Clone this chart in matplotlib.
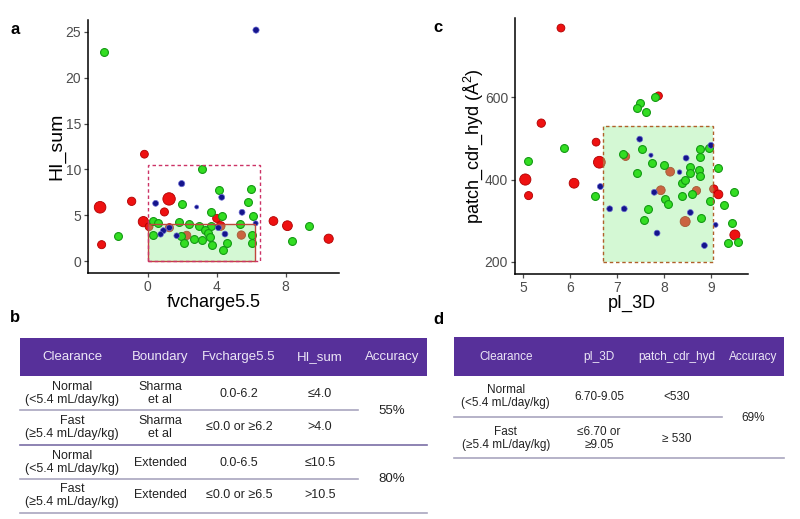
import matplotlib
matplotlib.use('Agg')
import matplotlib.pyplot as plt
from matplotlib.patches import Rectangle

plt.rcParams['font.family'] = ['Liberation Sans', 'DejaVu Sans']
plt.rcParams['mathtext.fontset'] = 'custom'
plt.rcParams['mathtext.rm'] = 'Liberation Sans'

# ---- panel a: fvcharge5.5 vs HI_sum ----
a_green_x = [-2.51, -1.70, 3.13, 1.97, 4.15, 6.0, 5.8, 3.65, 4.29, 6.09, 5.35, 0.33, 0.62, 1.8, 2.4, 2.96,
             3.65, 3.34, 3.5, 3.6, 0.33, 1.93, 2.7, 3.13, 2.09, 3.73, 4.58, 4.35, 6.07, 6.07, 8.39, 9.37]
a_green_y = [22.8, 2.73, 10.06, 6.23, 7.73, 7.9, 6.4, 5.36, 4.92, 4.92, 4.0, 4.41, 4.12, 4.3, 4.05, 3.83,
             3.86, 3.39, 3.1, 2.59, 2.8, 2.77, 2.37, 2.3, 2.0, 1.75, 2.0, 1.17, 2.8, 2.0, 2.22, 3.83]
a_blue_x = [6.28, 1.97, 0.46, 2.84, 4.29, 5.47, 6.26, 0.91, 0.75, 1.68, 1.26, 4.1, 4.48]
a_blue_y = [25.2, 8.45, 6.3, 5.9, 6.96, 5.32, 4.12, 3.32, 2.92, 2.77, 3.64, 3.64, 2.95]
a_blue_s = [20, 20, 18, 8, 18, 18, 13, 18, 16, 16, 18, 18, 18]
a_red_x = [-2.76, -2.67, -0.19, -0.93, -0.25, 0.08, 1.24, 0.97, 1.26, 2.26, 4.0, 4.23, 5.43, 7.29, 8.1, 10.49]
a_red_y = [5.87, 1.79, 11.66, 6.52, 4.3, 3.75, 6.78, 5.36, 3.64, 2.8, 4.66, 3.83, 2.84, 4.37, 3.86, 2.44]
a_red_s = [70, 34, 32, 36, 55, 32, 80, 34, 34, 36, 34, 40, 36, 40, 50, 44]
sharma = (0.0, 6.2, 0.0, 4.0)      # x0, x1, y0, y1
extended = (0.0, 6.5, 0.0, 10.5)

# ---- panel c: pI_3D vs patch_cdr_hyd ----
c_green_x = [5.09, 5.86, 6.52, 7.12, 7.48, 7.43, 7.62, 7.80, 7.53, 7.42, 7.75, 8.0, 8.38, 8.45, 8.56, 8.56,
             8.75, 8.77, 8.76, 8.95, 8.76, 8.59, 8.38, 8.03, 8.09, 7.66, 7.58, 8.79, 8.97, 9.16, 9.27, 9.5,
             9.45, 9.36, 9.58]
c_green_y = [444.5, 477.7, 361, 463, 585, 573, 565, 600, 474.5, 415, 441, 435.6, 391, 398, 431.6, 417,
             424, 473.7, 454, 477.7, 409, 366, 361, 353, 340, 328, 302, 306, 347, 427, 337, 369,
             294, 245, 249]
c_blue_x = [7.48, 7.72, 6.64, 6.84, 7.15, 7.79, 7.85, 8.47, 8.33, 8.56, 8.86, 9.0, 9.10]
c_blue_y = [498, 459, 383, 329, 329, 369, 270, 452, 418, 320, 240, 483, 290]
c_blue_s = [18, 9, 18, 18, 18, 18, 18, 18, 11, 18, 18, 18, 12]
c_red_x = [5.80, 5.38, 6.55, 6.62, 5.04, 5.11, 6.08, 7.88, 7.18, 8.13, 7.93, 8.69, 8.45, 9.06, 9.16, 9.51]
c_red_y = [767.6, 536.8, 490.7, 442, 400, 361, 391, 603, 456, 419, 374, 373, 298, 377, 364, 265.6]
c_red_s = [32, 36, 32, 72, 65, 34, 50, 32, 34, 40, 40, 36, 52, 36, 40, 52]
c_box = (6.70, 9.05, 200, 530)

# ---- tables ----
b_header = ['Clearance', 'Boundary', 'Fvcharge5.5', 'HI_sum', 'Accuracy']
b_rows = [['Normal\n(<5.4 mL/day/kg)', 'Sharma\net al', '0.0-6.2', '≤4.0'],
          ['Fast\n(≥5.4 mL/day/kg)', 'Sharma\net al', '≤0.0 or ≥6.2', '>4.0'],
          ['Normal\n(<5.4 mL/day/kg)', 'Extended', '0.0-6.5', '≤10.5'],
          ['Fast\n(≥5.4 mL/day/kg)', 'Extended', '≤0.0 or ≥6.5', '>10.5']]
b_acc = ['55%', '80%']
d_header = ['Clearance', 'pI_3D', 'patch_cdr_hyd', 'Accuracy']
d_rows = [['Normal\n(<5.4 mL/day/kg)', '6.70-9.05', '<530'],
          ['Fast\n(≥5.4 mL/day/kg)', '≤6.70 or\n≥9.05', '≥ 530']]
d_acc = ['69%']

RED, RED_E = '#ee1111', '#b00000'
GRN, GRN_E = '#33dd22', '#139913'
BLU, BLU_E = '#14148c', '#6a6ad0'
BOXFILL = '#90ee90'
PURPLE = '#57309a'

fig = plt.figure(figsize=(8, 5.19), dpi=100)
W, H = 800, 519


def style(ax):
    for s in ['top', 'right']:
        ax.spines[s].set_visible(False)
    for s in ['left', 'bottom']:
        ax.spines[s].set_linewidth(1.1)
    ax.tick_params(labelsize=10, colors='#4d4d4d', length=3, width=0.9, pad=2)


# panel a
ax = fig.add_axes([88 / W, 1 - 273 / H, (339 - 88) / W, (273 - 20) / H])
ax.scatter(a_red_x, a_red_y, s=a_red_s, c=RED, edgecolors=RED_E, linewidths=0.6, zorder=2)
ax.add_patch(Rectangle((sharma[0], sharma[2]), sharma[1] - sharma[0], sharma[3] - sharma[2],
                       facecolor=BOXFILL, alpha=0.38, edgecolor='none', zorder=3))
ax.add_patch(Rectangle((sharma[0], sharma[2]), sharma[1] - sharma[0], sharma[3] - sharma[2],
                       facecolor='none', edgecolor='#c0463c', lw=1.0, zorder=5))
ax.add_patch(Rectangle((extended[0], extended[2]), extended[1] - extended[0], extended[3] - extended[2],
                       facecolor='none', edgecolor='#cc3366', lw=1.0, ls=(0, (2.5, 2)), zorder=5))
ax.scatter(a_green_x, a_green_y, s=32, c=GRN, edgecolors=GRN_E, linewidths=0.8, zorder=4)
ax.scatter(a_blue_x, a_blue_y, s=a_blue_s, c=BLU, edgecolors=BLU_E, linewidths=0.5, zorder=4)
ax.set_xlim(-3.46, 11.09)
ax.set_ylim(-1.3, 26.3)
ax.set_xticks([0, 4, 8])
ax.set_yticks([0, 5, 10, 15, 20, 25])
ax.set_xlabel('fvcharge5.5', fontsize=13, labelpad=0)
ax.set_ylabel('HI_sum', fontsize=14, labelpad=0)
style(ax)

# panel c
ax = fig.add_axes([515 / W, 1 - 274 / H, (748 - 515) / W, (274 - 18) / H])
ax.scatter(c_red_x, c_red_y, s=c_red_s, c=RED, edgecolors=RED_E, linewidths=0.6, zorder=2)
ax.add_patch(Rectangle((c_box[0], c_box[2]), c_box[1] - c_box[0], c_box[3] - c_box[2],
                       facecolor=BOXFILL, alpha=0.38, edgecolor='none', zorder=3))
ax.add_patch(Rectangle((c_box[0], c_box[2]), c_box[1] - c_box[0], c_box[3] - c_box[2],
                       facecolor='none', edgecolor='#b0602a', lw=1.0, ls=(0, (2.5, 2)), zorder=5))
ax.scatter(c_green_x, c_green_y, s=32, c=GRN, edgecolors=GRN_E, linewidths=0.8, zorder=4)
ax.scatter(c_blue_x, c_blue_y, s=c_blue_s, c=BLU, edgecolors=BLU_E, linewidths=0.5, zorder=4)
ax.set_xlim(4.82, 9.79)
ax.set_ylim(170.8, 791.9)
ax.set_xticks([5, 6, 7, 8, 9])
ax.set_yticks([200, 400, 600])
ax.set_xlabel('pI_3D', fontsize=13, labelpad=0)
ax.set_ylabel('patch_cdr_hyd (Å$^2$)', fontsize=13, labelpad=0)
style(ax)

# overlay axes in pixel coordinates for tables and panel letters
tx = fig.add_axes([0, 0, 1, 1])
tx.set_xlim(0, W)
tx.set_ylim(H, 0)
tx.axis('off')

for lab, x, y in [('a', 15, 30), ('b', 15, 318), ('c', 438, 28), ('d', 438, 320)]:
    tx.text(x, y, lab, fontsize=12, fontweight='bold', ha='center', va='center')

# table b
tx.add_patch(Rectangle((20, 338), 407, 38, facecolor=PURPLE, edgecolor='none'))
b_cols = [72, 160, 239, 320, 392]
for name, x in zip(b_header, b_cols):
    tx.text(x, 357, name, fontsize=9.5, color='#ece6f6', ha='center', va='center')
b_mid = [393.7, 427.5, 462.5, 495.5]
for row, y in zip(b_rows, b_mid):
    for val, x in zip(row, b_cols):
        tx.text(x, y, val, fontsize=9, ha='center', va='center', linespacing=1.1, color='#222222')
tx.plot([20, 358], [410, 410], color='#a9a6bf', lw=1.2)
tx.plot([20, 427], [445, 445], color='#7a6ea6', lw=1.2)
tx.plot([20, 358], [479.3, 479.3], color='#a9a6bf', lw=1.2)
tx.plot([20, 427], [513.3, 513.3], color='#a9a6bf', lw=1.2)
for val, y in zip(b_acc, [410.7, 479]):
    tx.text(b_cols[4], y, val, fontsize=9.5, ha='center', va='center', color='#222222')

# table d
tx.add_patch(Rectangle((454, 337), 330, 39, facecolor=PURPLE, edgecolor='none'))
d_cols = [505.7, 599, 676.7, 752.7]
for name, x in zip(d_header, d_cols):
    tx.text(x, 357, name, fontsize=8.5, color='#ece6f6', ha='center', va='center')
d_mid = [396.7, 438.8]
for row, y in zip(d_rows, d_mid):
    for val, x in zip(row, d_cols):
        tx.text(x, y, val, fontsize=8.5, ha='center', va='center', linespacing=1.1, color='#222222')
tx.plot([454, 722], [416.7, 416.7], color='#a9a6bf', lw=1.2)
tx.plot([454, 784], [457.7, 457.7], color='#a9a6bf', lw=1.2)
tx.text(d_cols[3], 418.3, d_acc[0], fontsize=8.5, ha='center', va='center', color='#222222')

fig.savefig('out.png', dpi=100)
